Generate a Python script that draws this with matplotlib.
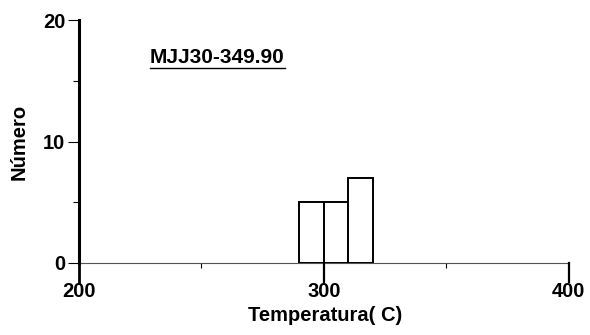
import matplotlib.pyplot as plt
from matplotlib.lines import Line2D

plt.rcParams['font.family'] = ['Liberation Sans', 'DejaVu Sans']

# histogram bins (temperature, C) and counts
bin_left = [290, 300, 310]
counts = [5, 5, 7]
bin_width = 10
sample = "MJJ30-349.90"

fig = plt.figure(figsize=(5.9, 3.35), dpi=100)
ax = fig.add_axes([0.134, 0.215, 0.830, 0.725])

ax.bar(bin_left, counts, width=bin_width, align='edge',
       facecolor='white', edgecolor='black', linewidth=1.4, zorder=3)

ax.set_xlim(200, 400)
ax.set_ylim(0, 20)

for s in ['top', 'right']:
    ax.spines[s].set_visible(False)
ax.spines['left'].set_linewidth(2.2)
ax.spines['bottom'].set_linewidth(0.8)
ax.spines['bottom'].set_color('#555555')

ax.set_yticks([0, 10, 20])
ax.set_yticks([5, 15], minor=True)
ax.tick_params(axis='y', which='major', length=8, width=0.8, labelsize=14.5, pad=2)
ax.tick_params(axis='y', which='minor', length=4.5, width=0.8)
ax.set_xticks([200, 300, 400])
ax.set_xticks([250, 350], minor=True)
ax.tick_params(axis='x', which='major', length=0, labelsize=14.5, pad=14)
ax.tick_params(axis='x', which='minor', direction='out', length=3.5, width=0.8)
for lab in ax.get_xticklabels() + ax.get_yticklabels():
    lab.set_fontweight('bold')

# long downward ticks at 200/300/400
for xv in [200, 300, 400]:
    ax.plot([xv, xv], [0, -1.6], color='black', lw=2.0 if xv == 200 else 1.6,
            clip_on=False, zorder=4)

ax.set_xlabel("Temperatura( C)", fontsize=14.5, fontweight='bold', va='center')
ax.xaxis.set_label_coords(0.503, -0.218)
ax.set_ylabel("Número", fontsize=14.5, fontweight='bold', va='center')
ax.yaxis.set_label_coords(-0.122, 0.5)

t = ax.text(229, 16.5, sample, fontsize=15, fontweight='bold', va='baseline')
fig.canvas.draw()
bb = t.get_window_extent().transformed(fig.transFigure.inverted())
fig.add_artist(Line2D([bb.x0, bb.x1], [bb.y0 - 0.004, bb.y0 - 0.004],
                      color='black', lw=1.0, transform=fig.transFigure))

fig.savefig('out.png', dpi=100)
